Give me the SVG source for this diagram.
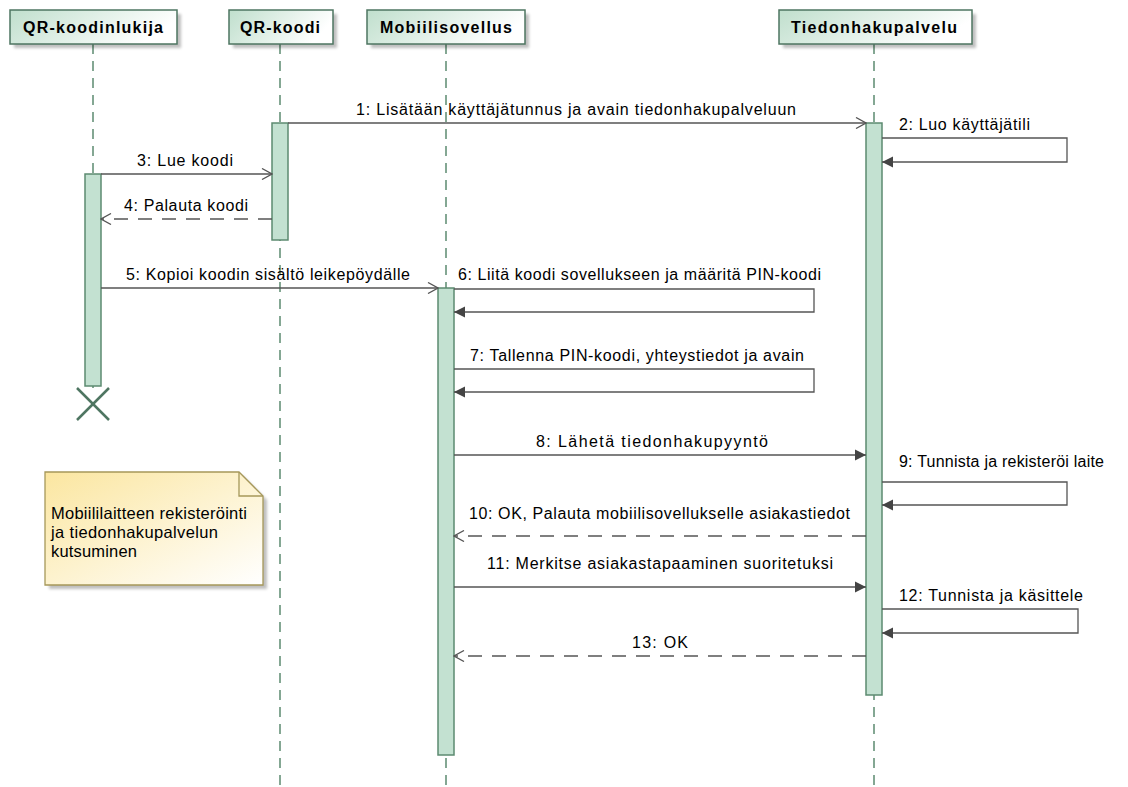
<svg xmlns="http://www.w3.org/2000/svg" width="1128" height="787" viewBox="0 0 1128 787">
<defs>
<style>
text{font-family:"Liberation Sans",Arial,sans-serif;fill:#000}
.hd{font-size:16px;font-weight:bold}
.lb{font-size:16px}
.nt{font-size:16.5px}
.pbox{fill:url(#pg);stroke:#4e7561;stroke-width:1.5}
.shadow{fill:#000;opacity:0.25;filter:url(#blur)}
.life{stroke:#5c8a70;stroke-width:1.5;stroke-dasharray:10,7;fill:none}
.act{fill:#c3e1d1;stroke:#5c8a70;stroke-width:1.5}
.msg{stroke:#555;stroke-width:1.3;fill:none}
.sync{marker-end:url(#filled)}
.async{marker-end:url(#open)}
.ret{stroke-dasharray:14,10;marker-end:url(#open)}
</style>
<linearGradient id="pg" x1="0" y1="0" x2="1" y2="0.3">
<stop offset="0" stop-color="#c0dfcd"/>
<stop offset="1" stop-color="#ffffff"/>
</linearGradient>
<linearGradient id="ng" x1="0" y1="0" x2="1" y2="1">
<stop offset="0" stop-color="#fbe6a0"/>
<stop offset="1" stop-color="#ffffff"/>
</linearGradient>
<filter id="blur" x="-10%" y="-10%" width="130%" height="130%">
<feGaussianBlur stdDeviation="1.5"/>
</filter>
<marker id="open" viewBox="0 0 12 12" refX="11" refY="6" markerWidth="12" markerHeight="12" markerUnits="userSpaceOnUse" orient="auto">
<path d="M1,0.5 L11,6 L1,11.5" fill="none" stroke="#555" stroke-width="1.3" stroke-dasharray="none"/>
</marker>
<marker id="filled" viewBox="0 0 12 12" refX="11" refY="6" markerWidth="12" markerHeight="12" markerUnits="userSpaceOnUse" orient="auto">
<path d="M0,0.5 L11,6 L0,11.5 Z" fill="#444" stroke="none"/>
</marker>
</defs>
<rect width="1128" height="787" fill="#ffffff"/>

<g id="lifelines">
<line class="life" x1="93" y1="44" x2="93" y2="388"/>
<line class="life" x1="280" y1="44" x2="280" y2="787"/>
<line class="life" x1="446" y1="44" x2="446" y2="787"/>
<line class="life" x1="874" y1="44" x2="874" y2="787"/>
</g>

<g id="p-qrlukija">
<rect class="shadow" x="14" y="14" width="167" height="34"/>
<rect class="pbox" x="10" y="10" width="167" height="34"/>
<text class="hd" x="23" y="33" textLength="140" lengthAdjust="spacing">QR-koodinlukija</text>
</g>
<g id="p-qrkoodi">
<rect class="shadow" x="233" y="14" width="104" height="34"/>
<rect class="pbox" x="229" y="10" width="104" height="34"/>
<text class="hd" x="240" y="33" textLength="80" lengthAdjust="spacing">QR-koodi</text>
</g>
<g id="p-mobiili">
<rect class="shadow" x="371" y="14" width="158" height="34"/>
<rect class="pbox" x="367" y="10" width="158" height="34"/>
<text class="hd" x="380" y="33" textLength="132" lengthAdjust="spacing">Mobiilisovellus</text>
</g>
<g id="p-tiedonhaku">
<rect class="shadow" x="783" y="14" width="193" height="34"/>
<rect class="pbox" x="779" y="10" width="193" height="34"/>
<text class="hd" x="791" y="33" textLength="166" lengthAdjust="spacing">Tiedonhakupalvelu</text>
</g>

<g id="activations">
<rect class="act" x="272" y="123" width="16" height="117"/>
<rect class="act" x="85" y="174" width="16" height="212"/>
<rect class="act" x="438" y="288" width="16" height="467"/>
<rect class="act" x="866" y="123" width="16" height="572"/>
</g>

<g id="destroy">
<line x1="77" y1="388" x2="109" y2="420" stroke="#4e7561" stroke-width="2.5"/>
<line x1="109" y1="388" x2="77" y2="420" stroke="#4e7561" stroke-width="2.5"/>
</g>

<g id="connectors">
<line class="msg async" x1="288" y1="123" x2="866" y2="123"/>
<text class="lb" x="356" y="115" textLength="440" lengthAdjust="spacing">1: Lisätään käyttäjätunnus ja avain tiedonhakupalveluun</text>

<path class="msg sync" d="M882,138 H1067 V162 H882"/>
<text class="lb" x="899" y="130" textLength="131" lengthAdjust="spacing">2: Luo käyttäjätili</text>

<line class="msg async" x1="101" y1="174" x2="272" y2="174"/>
<text class="lb" x="137" y="166" textLength="96" lengthAdjust="spacing">3: Lue koodi</text>

<line class="msg ret" x1="272" y1="219" x2="101" y2="219"/>
<text class="lb" x="124" y="211" textLength="124" lengthAdjust="spacing">4: Palauta koodi</text>

<line class="msg async" x1="101" y1="288" x2="438" y2="288"/>
<text class="lb" x="126" y="280" textLength="284" lengthAdjust="spacing">5: Kopioi koodin sisältö leikepöydälle</text>

<path class="msg sync" d="M454,289 H814 V312 H454"/>
<text class="lb" x="458" y="280" textLength="363" lengthAdjust="spacing">6: Liitä koodi sovellukseen ja määritä PIN-koodi</text>

<path class="msg sync" d="M454,369 H814 V392 H454"/>
<text class="lb" x="470" y="361" textLength="334" lengthAdjust="spacing">7: Tallenna PIN-koodi, yhteystiedot ja avain</text>

<line class="msg sync" x1="454" y1="455" x2="866" y2="455"/>
<text class="lb" x="536" y="447" textLength="232" lengthAdjust="spacing">8: Lähetä tiedonhakupyyntö</text>

<path class="msg sync" d="M882,482 H1067 V505 H882"/>
<text class="lb" x="899" y="467" textLength="205" lengthAdjust="spacing">9: Tunnista ja rekisteröi laite</text>

<line class="msg ret" x1="866" y1="536" x2="454" y2="536"/>
<text class="lb" x="469" y="519" textLength="381" lengthAdjust="spacing">10: OK, Palauta mobiilisovellukselle asiakastiedot</text>

<line class="msg sync" x1="454" y1="587" x2="866" y2="587"/>
<text class="lb" x="487" y="569" textLength="346" lengthAdjust="spacing">11: Merkitse asiakastapaaminen suoritetuksi</text>

<path class="msg sync" d="M882,609 H1078 V633 H882"/>
<text class="lb" x="899" y="601" textLength="184" lengthAdjust="spacing">12: Tunnista ja käsittele</text>

<line class="msg ret" x1="866" y1="656" x2="454" y2="656"/>
<text class="lb" x="632" y="648" textLength="56" lengthAdjust="spacing">13: OK</text>
</g>

<g id="note">
<path class="shadow" d="M49,476 H243 L267,500 V589 H49 Z"/>
<path d="M45,472 H239 L263,496 V585 H45 Z" fill="url(#ng)" stroke="#a6985a" stroke-width="1.3"/>
<path d="M239,472 V496 H263" fill="none" stroke="#a6985a" stroke-width="1.3"/>
<text class="nt" x="51" y="519" textLength="196" lengthAdjust="spacing">Mobiililaitteen rekisteröinti</text>
<text class="nt" x="51" y="538" textLength="167" lengthAdjust="spacing">ja tiedonhakupalvelun</text>
<text class="nt" x="51" y="557" textLength="86" lengthAdjust="spacing">kutsuminen</text>
</g>
</svg>
